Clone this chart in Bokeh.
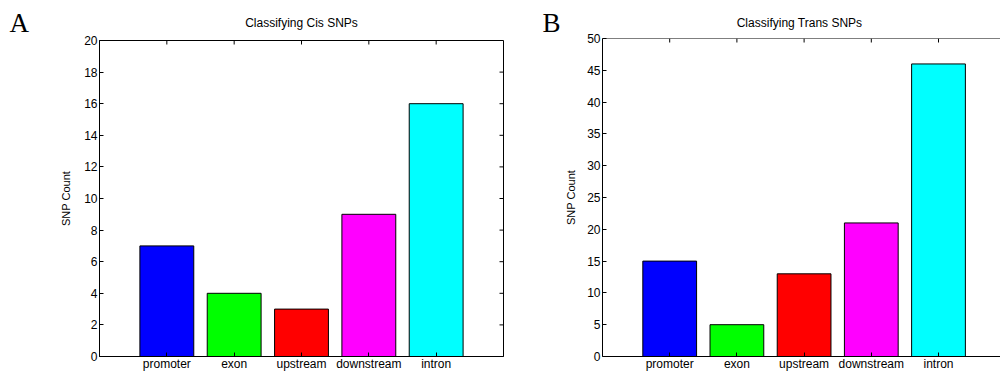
import math
from bokeh.plotting import figure
from bokeh.models import (ColumnDataSource, Range1d, LinearAxis, FixedTicker,
                          Span)
from bokeh.core.properties import value
from bokeh.layouts import row, column
from bokeh.embed import file_html
from bokeh.resources import INLINE

categories = ["promoter", "exon", "upstream", "downstream", "intron"]
cis_counts = [7, 4, 3, 9, 16]
trans_counts = [15, 5, 13, 21, 46]
bar_colors = ["#0000FF", "#00FF00", "#FF0000", "#FF00FF", "#00FFFF"]
cis_yticks = [0, 2, 4, 6, 8, 10, 12, 14, 16, 18, 20]
trans_yticks = [0, 5, 10, 15, 20, 25, 30, 35, 40, 45, 50]
panel_titles = ["Classifying Cis SNPs", "Classifying Trans SNPs"]
panel_letters = ["A", "B"]

FONT = "Liberation Sans"
HEADER_H = 32


def make_header(width, title, title_x, letter, letter_x):
    h = figure(width=width, height=HEADER_H, output_backend="svg",
               toolbar_location=None, x_range=Range1d(0, width),
               y_range=Range1d(0, HEADER_H), x_axis_location=None,
               y_axis_location=None, min_border=0, min_border_left=0,
               min_border_right=0, min_border_top=0, min_border_bottom=0,
               frame_align=False)
    h.outline_line_color = None
    h.xgrid.visible = False
    h.ygrid.visible = False
    h.text(x=[title_x], y=[9.5], text=[title], text_align="center",
           text_baseline="middle", text_font=value(FONT),
           text_font_size="12px", text_color="black")
    h.text(x=[letter_x], y=[9.5], text=[letter], text_align="left",
           text_baseline="middle", text_font=value("Liberation Serif"),
           text_font_size="27px", text_color="black")
    return h


def make_panel(counts, yticks, width, height, xmax, bl, br, bt, bb,
               closed_box, ylabel_standoff):
    ymax = yticks[-1]
    p = figure(width=width, height=height, output_backend="svg",
               toolbar_location=None, x_range=Range1d(0, xmax),
               y_range=Range1d(0, ymax), x_axis_location=None,
               y_axis_location=None, min_border_left=bl,
               min_border_right=br, min_border_top=bt, min_border_bottom=bb,
               frame_align=False)
    p.xgrid.visible = False
    p.ygrid.visible = False
    p.background_fill_color = "white"
    p.border_fill_color = "white"
    if closed_box:
        p.outline_line_color = "black"
        p.outline_line_width = 1
    else:
        p.outline_line_color = None
        p.add_layout(Span(location=ymax, dimension="width",
                          line_color="black", line_width=1))

    xs = list(range(1, len(categories) + 1))
    src = ColumnDataSource(dict(x=xs, top=counts, color=bar_colors))
    p.vbar(x="x", top="top", bottom=0, width=0.8, fill_color="color",
           line_color="black", line_width=1, source=src)

    yax = LinearAxis(ticker=FixedTicker(ticks=yticks))
    yax.axis_label = "SNP Count"
    yax.axis_label_text_font = FONT
    yax.axis_label_text_font_size = "11px"
    yax.axis_label_text_font_style = "normal"
    yax.axis_label_text_color = "black"
    yax.axis_label_standoff = ylabel_standoff
    yax.major_label_text_font = FONT
    yax.major_label_text_font_size = "12px"
    yax.major_label_text_color = "black"
    yax.major_label_standoff = 2
    yax.major_tick_in = 4
    yax.major_tick_out = 0
    yax.minor_tick_in = 0
    yax.minor_tick_out = 0
    yax.axis_line_color = "black"
    yax.major_tick_line_color = "black"
    p.add_layout(yax, "left")

    bax = LinearAxis(ticker=FixedTicker(ticks=xs))
    bax.major_label_overrides = {x: c for x, c in zip(xs, categories)}
    bax.major_label_text_font = FONT
    bax.major_label_text_font_size = "12px"
    bax.major_label_text_color = "black"
    bax.major_label_standoff = 0
    bax.major_tick_in = 4
    bax.major_tick_out = 0
    bax.minor_tick_in = 0
    bax.minor_tick_out = 0
    bax.axis_line_color = "black"
    bax.major_tick_line_color = "black"
    p.add_layout(bax, "below")

    tsrc = ColumnDataSource(dict(x=xs, y=[ymax] * len(xs)))
    p.ray(x="x", y="y", length=4, length_units="screen", angle=-math.pi / 2,
          line_color="black", line_width=1, source=tsrc)
    if closed_box:
        rsrc = ColumnDataSource(dict(x=[xmax] * len(yticks), y=yticks))
        p.ray(x="x", y="y", length=4, length_units="screen", angle=math.pi,
              line_color="black", line_width=1, source=rsrc)
    return p


hA = make_header(520, panel_titles[0], 301, panel_letters[0], 9)
hB = make_header(480, panel_titles[1], 279, panel_letters[1], 22)
pa = make_panel(cis_counts, cis_yticks, width=520, height=373 - HEADER_H,
                xmax=6, bl=99, br=17, bt=8, bb=14, closed_box=True,
                ylabel_standoff=9)
pb = make_panel(trans_counts, trans_yticks, width=480, height=373 - HEADER_H,
                xmax=398 / 67.2, bl=82, br=0, bt=6, bb=17, closed_box=False,
                ylabel_standoff=7)

layout = row(column(hA, pa), column(hB, pb))
open("out.html", "w").write(file_html(layout, INLINE))
